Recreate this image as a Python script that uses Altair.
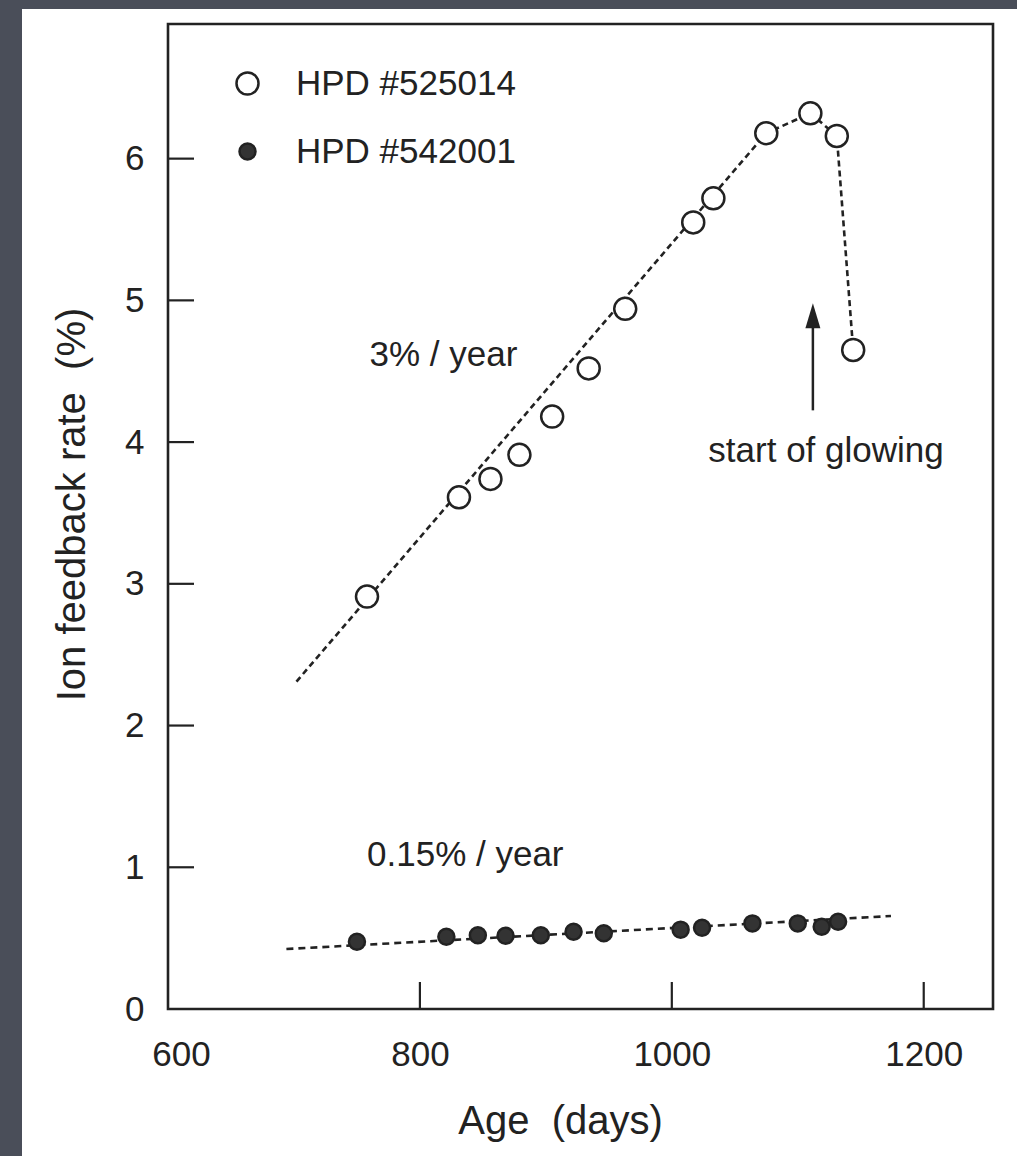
import altair as alt
import pandas as pd

# HPD #525014 (open circles): age in days, ion feedback rate in %
open_age = [758, 831, 856, 879, 905, 934, 963, 1017, 1033, 1075, 1110, 1131, 1144]
open_rate = [2.91, 3.61, 3.74, 3.91, 4.18, 4.52, 4.94, 5.55, 5.72, 6.18, 6.32, 6.16, 4.65]

# HPD #542001 (filled circles)
filled_age = [750, 821, 846, 868, 896, 922, 946, 1007, 1024, 1064, 1100, 1119, 1132]
filled_rate = [0.475, 0.51, 0.52, 0.517, 0.52, 0.545, 0.534, 0.56, 0.573, 0.604, 0.604, 0.58, 0.616]

series_names = ["HPD #525014", "HPD #542001"]

# dashed guides: linear trend of the aging tube, then its collapse; flat trend of the good tube
open_trend_age = [702, 1075, 1110, 1131, 1144]
open_trend_rate = [2.31, 6.18, 6.32, 6.16, 4.65]
filled_trend_age = [694, 1174]
filled_trend_rate = [0.423, 0.656]

# annotations
note_text = ["3% / year", "0.15% / year", "start of glowing"]
note_age = [760, 758, 1029]
note_rate = [4.535, 1.008, 3.857]

# arrow marking the start of glowing
arrow_age = [1112]
arrow_from = [4.224]
arrow_to = [4.855]
arrow_tip = [4.891]

x_tick_values = [600, 800, 1000, 1200]
y_tick_values = [0, 1, 2, 3, 4, 5, 6]
x_inner_ticks = [800, 1000, 1200]
y_inner_ticks = [1, 2, 3, 4, 5, 6]

W, H = 825, 985
FONT = "Liberation Sans"
INK = "#222222"
FRAME_BG = "#4a4e59"
TEXT_SIZE = 35

x_scale = alt.Scale(domain=[600, 1255], nice=False, zero=False)
y_scale = alt.Scale(domain=[0, 6.95], nice=False, zero=False)

x_axis = alt.Axis(
    values=x_tick_values, format="d", title="Age\u00a0 (days)",
    labelFontSize=TEXT_SIZE, labelPadding=28, labelFlush=False,
    labelOffset={"condition": {"test": "datum.value === 600", "value": 13}, "value": 0},
    titleFontSize=40, titleX=392, titleY=124, titleBaseline="alphabetic", titleAlign="center",
)
y_axis = alt.Axis(
    values=y_tick_values, format="d", title="Ion feedback rate\u00a0 (%)",
    labelFontSize=TEXT_SIZE, labelPadding=24, labelFlush=False,
    titleFontSize=40, titleX=-84, titleY=480, titleAngle=270,
    titleBaseline="alphabetic", titleAlign="center",
)

X = lambda: alt.X("age:Q", scale=x_scale, axis=x_axis)
Y = lambda: alt.Y("rate:Q", scale=y_scale, axis=y_axis)

# grey surround on the left and top edges
strips = alt.Chart(alt.Data(values=[{}])).mark_rect(color=FRAME_BG).encode(
    x=alt.value(-168), x2=alt.value(-146), y=alt.value(-24), y2=alt.value(1132)
) + alt.Chart(alt.Data(values=[{}])).mark_rect(color=FRAME_BG).encode(
    x=alt.value(-168), x2=alt.value(849), y=alt.value(-24), y2=alt.value(-15)
)

open_trend = alt.Chart(pd.DataFrame({"age": open_trend_age, "rate": open_trend_rate})).mark_line(
    color=INK, strokeWidth=2.6, strokeDash=[6, 4]
).encode(x=X(), y=Y())

filled_trend = alt.Chart(pd.DataFrame({"age": filled_trend_age, "rate": filled_trend_rate})).mark_line(
    color=INK, strokeWidth=2.6, strokeDash=[7, 5]
).encode(x=X(), y=Y())

# inward tick marks
x_ticks = alt.Chart(pd.DataFrame({"age": x_inner_ticks})).mark_rule(color=INK, strokeWidth=2.2).encode(
    x=X(), y=alt.value(H), y2=alt.value(H - 27)
)
y_ticks = alt.Chart(pd.DataFrame({"rate": y_inner_ticks})).mark_rule(color=INK, strokeWidth=2.2).encode(
    y=Y(), x=alt.value(0), x2=alt.value(26)
)

arrow_shaft = alt.Chart(pd.DataFrame({"age": arrow_age, "rate": arrow_from, "rate2": arrow_to})).mark_rule(
    color=INK, strokeWidth=2.5
).encode(x=X(), y=Y(), y2="rate2:Q")
arrow_head = alt.Chart(pd.DataFrame({"age": arrow_age, "rate": arrow_tip})).mark_point(
    shape="M0,-1L0.6,1L-0.6,1Z", size=625, filled=True, color=INK, opacity=1
).encode(x=X(), y=Y())

points_df = pd.DataFrame({
    "age": open_age + filled_age,
    "rate": open_rate + filled_rate,
    "tube": [series_names[0]] * len(open_age) + [series_names[1]] * len(filled_age),
})
legend = alt.Legend(
    title=None, orient="none", legendX=62, legendY=42, padding=0,
    labelFont=FONT, labelFontSize=TEXT_SIZE, labelColor=INK, labelOffset=31, rowPadding=32,
    labelLimit=0, symbolStrokeWidth=2.5, symbolType="circle",
)
points = alt.Chart(points_df).mark_point(
    shape="circle", filled=True, strokeWidth=2.5, opacity=1
).encode(
    x=X(), y=Y(),
    fill=alt.Fill("tube:N", scale=alt.Scale(domain=series_names, range=["white", "#333333"]), legend=legend),
    stroke=alt.Stroke("tube:N", scale=alt.Scale(domain=series_names, range=[INK, INK]), legend=legend),
    size=alt.Size("tube:N", scale=alt.Scale(domain=series_names, range=[484, 256]), legend=legend),
)

notes = alt.Chart(pd.DataFrame({"age": note_age, "rate": note_rate, "note": note_text})).mark_text(
    align="left", baseline="alphabetic", font=FONT, fontSize=TEXT_SIZE, color=INK
).encode(x=X(), y=Y(), text="note:N")

chart = alt.layer(
    strips, open_trend, filled_trend, x_ticks, y_ticks, arrow_shaft, arrow_head, points, notes
).properties(
    width=W, height=H,
    padding={"left": 168, "top": 24, "right": 24, "bottom": 147},
    autosize=alt.AutoSizeParams(type="none"),
    background="white",
).configure_axis(
    labelFont=FONT, titleFont=FONT, labelColor=INK, titleColor=INK,
    titleFontWeight="normal", grid=False, domain=False, ticks=False, tickSize=0, zindex=1,
).configure_view(
    stroke=INK, strokeWidth=2.6
)

chart.save("out.html", embed_options={"renderer": "svg", "actions": False})
